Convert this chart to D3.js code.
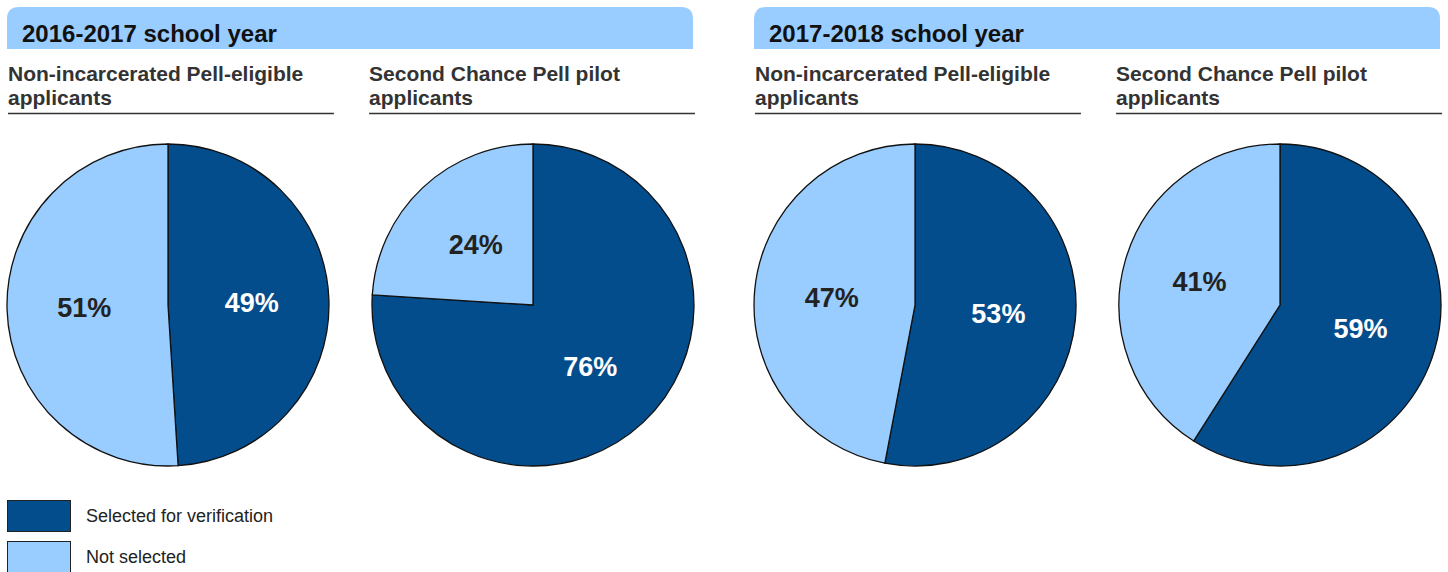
<!DOCTYPE html>
<html>
<head>
<meta charset="utf-8">
<script src="https://cdn.jsdelivr.net/npm/d3@7"></script>
<style>
  body { margin: 0; background: #fff; }
  svg { display: block; font-family: "Liberation Sans", Arial, sans-serif; }
</style>
</head>
<body>
<div id="chart"></div>
<script>
// school years (header bars) and the two groups under each
const years = ['2016-2017 school year', '2017-2018 school year'];
const groups = ['Non-incarcerated Pell-eligible|applicants', 'Second Chance Pell pilot|applicants'];
const categories = ['Selected for verification', 'Not selected'];

// percent selected / not selected, one pair per pie (year x group)
const selected = [49, 76, 53, 59];
const notSelected = [51, 24, 47, 41];

const colors = ['#034d8d', '#99ccff'];
const labelColors = ['#ffffff', '#222222'];

const width = 1448;
const height = 572;

const svg = d3.select('#chart').append('svg')
    .attr('width', width)
    .attr('height', height);

// x position of each panel column
const yearX = d3.scaleBand().domain(d3.range(years.length)).range([7, 1440]).paddingInner(0.0817);
const groupX = d3.scaleBand().domain(d3.range(groups.length)).range([0, yearX.bandwidth()]).paddingInner(0.1);

const radius = 161;
const pie = d3.pie().sort(null).value(d => d.value);
const arc = d3.arc().innerRadius(0).outerRadius(radius);
const labelArc = d3.arc().innerRadius(radius * 0.52).outerRadius(radius * 0.52);

years.forEach((year, yi) => {
    const g = svg.append('g').attr('transform', `translate(${yearX(yi)},0)`);
    const bw = yearX.bandwidth();
    const r = 12;
    // header bar with rounded top corners
    g.append('path')
        .attr('d', `M0,49 V${7 + r} Q0,7 ${r},7 H${bw - r} Q${bw},7 ${bw},${7 + r} V49 Z`)
        .attr('fill', colors[1]);
    g.append('text')
        .attr('x', 15)
        .attr('y', 42)
        .attr('font-size', 24)
        .attr('font-weight', 'bold')
        .attr('fill', '#111')
        .text(year);

    groups.forEach((grp, gi) => {
        const k = yi * groups.length + gi;
        const gx = groupX(gi);
        const cell = g.append('g').attr('transform', `translate(${gx},0)`);
        grp.split('|').forEach((line, li) => {
            cell.append('text')
                .attr('x', 1)
                .attr('y', 81 + li * 24)
                .attr('font-size', 21)
                .attr('font-weight', 'bold')
                .attr('fill', '#333')
                .text(line);
        });
        cell.append('line')
            .attr('x1', 1)
            .attr('x2', groupX.bandwidth() + 2)
            .attr('y1', 113.5)
            .attr('y2', 113.5)
            .attr('stroke', '#333')
            .attr('stroke-width', 1.5);

        const data = [
            { cat: 0, value: selected[k] },
            { cat: 1, value: notSelected[k] }
        ];
        // pies sit flush with the outer edge of their year panel
        const cx = gi === 0 ? radius : groupX.bandwidth() - radius + 1;
        const p = cell.append('g').attr('transform', `translate(${cx},305)`);
        const slices = pie(data);
        p.selectAll('path')
            .data(slices)
            .enter().append('path')
            .attr('d', arc)
            .attr('fill', d => colors[d.data.cat])
            .attr('stroke', '#111')
            .attr('stroke-width', 1.3);
        p.selectAll('text')
            .data(slices)
            .enter().append('text')
            .attr('transform', d => `translate(${labelArc.centroid(d)})`)
            .attr('text-anchor', 'middle')
            .attr('dy', '0.36em')
            .attr('font-size', 27)
            .attr('font-weight', 'bold')
            .attr('fill', d => labelColors[d.data.cat])
            .text(d => d.data.value + '%');
    });
});

// legend
const legend = svg.append('g').attr('transform', 'translate(7,500)');
categories.forEach((c, i) => {
    legend.append('rect')
        .attr('x', 0.5)
        .attr('y', i * 41 + 0.5)
        .attr('width', 63)
        .attr('height', 31)
        .attr('fill', colors[i])
        .attr('stroke', '#222')
        .attr('stroke-width', 1);
    legend.append('text')
        .attr('x', 79)
        .attr('y', i * 41 + 22)
        .attr('font-size', 18)
        .attr('fill', '#222')
        .text(c);
});
</script>
</body>
</html>
